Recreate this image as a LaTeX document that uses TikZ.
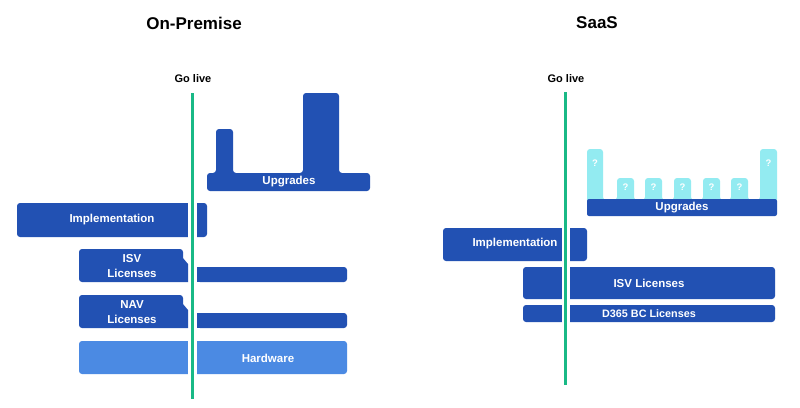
\documentclass[tikz,border=0pt]{standalone}
\usepackage{fontspec}
\setmainfont{Liberation Sans}
\definecolor{dblue}{HTML}{2251B3}
\definecolor{lblue}{HTML}{4B8AE3}
\definecolor{cyanb}{HTML}{93EBF1}
\definecolor{golive}{HTML}{19B986}
\begin{document}
\begin{tikzpicture}[x=1pt,y=-1pt,
  bar/.style={fill=dblue,rounded corners=3pt},
  hbar/.style={fill=lblue,rounded corners=3pt},
  gap/.style={fill=white},
  gline/.style={draw=golive,line width=2.6pt},
  lbl/.style={text=white,font=\bfseries\fontsize{11.5}{15}\selectfont,inner sep=0pt,align=center},
  ttl/.style={text=black,font=\bfseries\fontsize{17}{20}\selectfont,inner sep=0pt},
  glbl/.style={text=black,font=\bfseries\fontsize{11}{13}\selectfont,inner sep=0pt},
  qm/.style={text=white,font=\bfseries\fontsize{9.5}{10}\selectfont,inner sep=0pt}]
\useasboundingbox (0,0) rectangle (800,407);

% ---------------- On-Premise ----------------
\node[ttl] (t1) at (194,23) {On-Premise};
\node[glbl] (g1) at (193,79) {Go live};

% Upgrades
\fill[bar] (207,191) -- (207,173) -- (216,173) -- (216,129) -- (233,129) -- (233,173)
  -- (303,173) -- (303,93) -- (339,93) -- (339,173) -- (370,173) -- (370,191) -- cycle;
\node[lbl] (u1) at (289,182) {Upgrades};

% Implementation
\fill[bar] (17,203) rectangle (207,237);
\fill[gap] (188,200) rectangle (197,240);
\node[lbl] (i1) at (112,220) {Implementation};

% ISV Licenses
\fill[dblue] (188,282) [rounded corners=3pt] -- (79,282) -- (79,249) -- (183,249) [sharp corners] -- (183,258) -- (188,264) -- cycle;
\fill[dblue,rounded corners=3pt] (197,267) -- (347,267) -- (347,282) -- (197,282) -- cycle;
\fill[dblue] (197,267) rectangle (202,282);
\node[lbl] (s1) at (132,266) {ISV\\Licenses};

% NAV Licenses
\fill[dblue] (188,328) [rounded corners=3pt] -- (79,328) -- (79,295) -- (183,295) [sharp corners] -- (183,304) -- (188,310) -- cycle;
\fill[dblue,rounded corners=3pt] (197,313) -- (347,313) -- (347,328) -- (197,328) -- cycle;
\fill[dblue] (197,313) rectangle (202,328);
\node[lbl] (n1) at (132,312) {NAV\\Licenses};

% Hardware
\fill[hbar] (79,341) rectangle (347,374);
\fill[gap] (188,338) rectangle (197,377);
\node[lbl] (h1) at (268,358) {Hardware};

\coordinate (l1a) at (192.5,93);
\coordinate (l1b) at (192.5,399);
\draw[gline] (l1a) -- (l1b);

% ---------------- SaaS ----------------
\node[ttl] (t2) at (597,23) {SaaS};
\node[glbl] (g2) at (566,79) {Go live};

% Upgrade spikes
\fill[cyanb,rounded corners=3pt] (587,202) -- (587,149) -- (603,149) -- (603,200)
  -- (617,200) -- (617,178) -- (634,178) -- (634,200)
  -- (645,200) -- (645,178) -- (662,178) -- (662,200)
  -- (674,200) -- (674,178) -- (691,178) -- (691,200)
  -- (703,200) -- (703,178) -- (720,178) -- (720,200)
  -- (731,200) -- (731,178) -- (748,178) -- (748,200)
  -- (760,200) -- (760,149) -- (777,149) -- (777,202) -- cycle;
\node[qm] (q1) at (595,163) {?};
\node[qm] (q2) at (625.5,187) {?};
\node[qm] (q3) at (653.5,187) {?};
\node[qm] (q4) at (682.5,187) {?};
\node[qm] (q5) at (711.5,187) {?};
\node[qm] (q6) at (739.5,187) {?};
\node[qm] (q7) at (768.5,163) {?};
\fill[dblue,rounded corners=2pt] (587,199) rectangle (777,216);
\node[lbl] (u2) at (682,208) {Upgrades};

% Implementation
\fill[bar] (443,228) rectangle (587,261);
\fill[gap] (562,225) rectangle (570,264);
\node[lbl] (i2) at (515,244) {Implementation};

% ISV Licenses
\fill[bar] (523,267) rectangle (775,299);
\fill[gap] (562,264) rectangle (570,302);
\node[lbl] (s2) at (649,283) {ISV Licenses};

% D365 BC Licenses
\fill[bar] (523,305) rectangle (775,322);
\fill[gap] (562,302) rectangle (570,325);
\node[lbl,font=\bfseries\fontsize{10.8}{12}\selectfont] (d2) at (649,313.5) {D365 BC Licenses};

\coordinate (l2a) at (565.5,92);
\coordinate (l2b) at (565.5,385);
\draw[gline] (l2a) -- (l2b);
\end{tikzpicture}
\end{document}
